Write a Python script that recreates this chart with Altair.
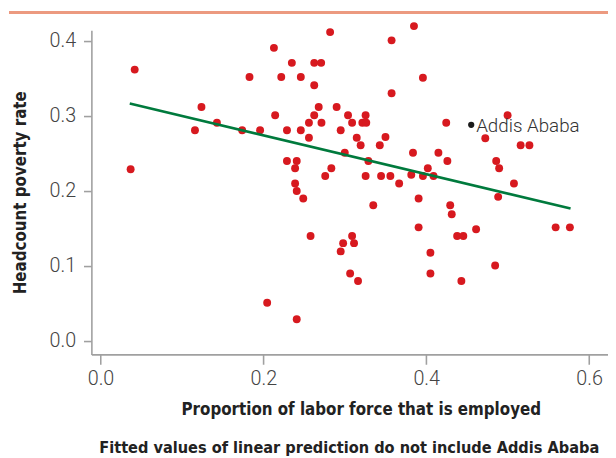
import altair as alt
import pandas as pd

# Sub-city observations (proportion employed, headcount poverty rate)
emp = [0.042, 0.037, 0.124, 0.116, 0.143, 0.174, 0.196, 0.183, 0.213, 0.222,
       0.235, 0.246, 0.2625, 0.271, 0.2625, 0.282, 0.2145, 0.229, 0.246, 0.256,
       0.2625, 0.268, 0.2714, 0.256, 0.290, 0.295, 0.304, 0.300, 0.229, 0.241,
       0.239, 0.2835, 0.276, 0.239, 0.241, 0.249, 0.258, 0.298, 0.295, 0.2047,
       0.241, 0.385, 0.3575, 0.396, 0.3575, 0.3256, 0.309, 0.3216, 0.3264, 0.3147,
       0.3195, 0.350, 0.343, 0.4246, 0.500, 0.4726, 0.516, 0.5268, 0.329, 0.3838,
       0.415, 0.426, 0.402, 0.486, 0.4896, 0.3256, 0.3446, 0.356, 0.3817, 0.396,
       0.409, 0.3668, 0.5078, 0.4884, 0.3907, 0.335, 0.4295, 0.4314, 0.3907, 0.559,
       0.5765, 0.4613, 0.438, 0.4456, 0.309, 0.3114, 0.4052, 0.4847, 0.3066, 0.4052,
       0.3163, 0.4432]
pov = [0.362, 0.229, 0.312, 0.281, 0.291, 0.281, 0.281, 0.352, 0.391, 0.352,
       0.371, 0.352, 0.371, 0.371, 0.341, 0.412, 0.301, 0.281, 0.281, 0.291,
       0.301, 0.312, 0.291, 0.271, 0.312, 0.281, 0.301, 0.251, 0.240, 0.240,
       0.2305, 0.2305, 0.220, 0.210, 0.200, 0.190, 0.140, 0.1305, 0.1195, 0.051,
       0.029, 0.420, 0.401, 0.351, 0.3305, 0.301, 0.291, 0.291, 0.291, 0.271,
       0.261, 0.272, 0.261, 0.291, 0.301, 0.2704, 0.261, 0.261, 0.240, 0.251,
       0.251, 0.240, 0.2305, 0.240, 0.2305, 0.220, 0.220, 0.220, 0.2217, 0.220,
       0.220, 0.210, 0.210, 0.1923, 0.190, 0.181, 0.181, 0.169, 0.1516, 0.1516,
       0.1516, 0.149, 0.140, 0.140, 0.140, 0.1305, 0.1178, 0.1007, 0.090, 0.090,
       0.080, 0.080]

# Addis Ababa (excluded from fit)
addis_name = ["Addis Ababa"]
addis_emp = [0.4553]
addis_pov = [0.2884]

# Fitted line endpoints
fit_emp = [0.0359, 0.5773]
fit_pov = [0.3168, 0.1766]

x_ticks = [0.0, 0.2, 0.4, 0.6]
y_ticks = [0.0, 0.1, 0.2, 0.3, 0.4]

TFONT = "DejaVu Sans Condensed, Liberation Sans Narrow, sans-serif"
LFONT = "Roboto, Liberation Sans, sans-serif"

pts = pd.DataFrame({"emp": emp, "pov": pov})
addis = pd.DataFrame({"emp": addis_emp, "pov": addis_pov, "name": addis_name})
fit = pd.DataFrame({"emp": fit_emp, "pov": fit_pov})

W, H = 523.5, 328.5
xs = alt.Scale(domain=[-0.0112, 0.6233], nice=False, zero=False)
ys = alt.Scale(domain=[-0.0178, 0.4145], nice=False, zero=False)

common = dict(grid=False, domainColor="#a0a0a0", tickColor="#a0a0a0", domainWidth=1.6, tickWidth=1.6,
              labelFont=LFONT, labelFontSize=20, labelFontWeight=300, labelColor="#444444",
              titleFont=TFONT, titleFontSize=17, titleFontWeight="bold", titleColor="#222222",
              labelFlush=False)
xax = alt.Axis(values=x_ticks, format=".1f", title="Proportion of labor force that is employed",
               tickSize=10, labelPadding=5, titlePadding=13, titleX=273, titleAlign="center",
               **common)
yax = alt.Axis(values=y_ticks, format=".1f", title="Headcount poverty rate",
               tickSize=8, labelPadding=8, titlePadding=20, **common)

base_x = alt.X("emp:Q", scale=xs, axis=xax)
base_y = alt.Y("pov:Q", scale=ys, axis=yax)

dots = alt.Chart(pts).mark_circle(size=64, color="#d7191f", opacity=1).encode(x=base_x, y=base_y)
line = alt.Chart(fit).mark_line(color="#007a3d", strokeWidth=2.6).encode(x="emp:Q", y="pov:Q")
adot = alt.Chart(addis).mark_circle(size=40, color="#1a1a1a", opacity=1).encode(x="emp:Q", y="pov:Q")
alab = alt.Chart(addis).mark_text(align="left", baseline="middle", dx=5, dy=1, font=LFONT,
                                  fontWeight=300, fontSize=19, color="#333333").encode(
    x="emp:Q", y="pov:Q", text="name:N")
toprule = alt.Chart(pts).mark_rule(color="#ec9a80", strokeWidth=3).encode(
    x=alt.value(-83), x2=alt.value(W), y=alt.value(-18))

chart = alt.layer(dots, line, adot, alab, toprule).properties(
    width=W, height=H,
    title=alt.TitleParams("Fitted values of linear prediction do not include Addis Ababa",
                          orient="bottom", anchor="start", frame="group", dx=8, offset=23,
                          font=TFONT, fontSize=16.4, fontWeight="bold", color="#222222"),
    autosize=alt.AutoSizeParams(type="none"),
    padding={"left": 84.5, "top": 19.5, "right": 0, "bottom": 102},
).configure_view(stroke=None)

chart.save("out.html", embed_options={"renderer": "svg", "actions": False})
